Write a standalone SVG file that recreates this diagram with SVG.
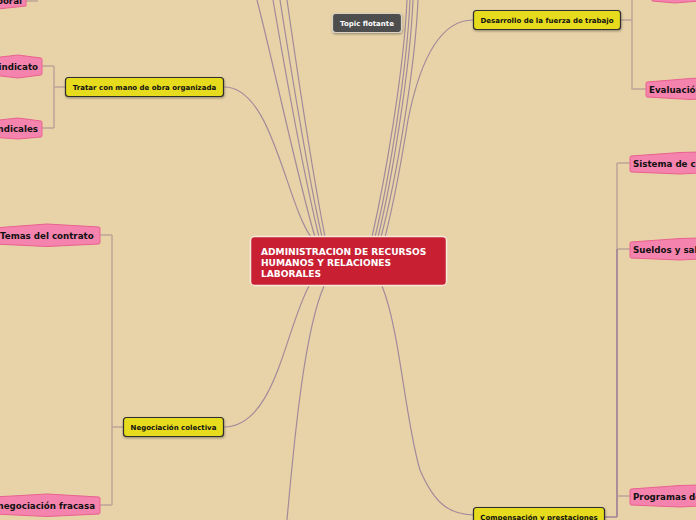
<svg xmlns="http://www.w3.org/2000/svg" width="696" height="520" viewBox="0 0 696 520">
<defs>
<filter id="sh" x="-10%" y="-20%" width="120%" height="160%"><feDropShadow dx="0.5" dy="1.2" stdDeviation="0.8" flood-color="#000" flood-opacity="0.35"/></filter>
<style>
.bg{fill:#E8D3A8}
.main{fill:none;stroke:#A38A9B;stroke-width:1.2}
.sub{fill:none;stroke:#BCA596;stroke-width:1.5}
.subp{fill:none;stroke:#A08399;stroke-width:1.5}
.yel{fill:#E6DB1D;stroke:#2E2E2E;stroke-width:1.2}
.pink{fill:#F483AD;stroke:#E8628F;stroke-width:1}
.yt{font-family:"DejaVu Sans",sans-serif;font-weight:bold;font-size:7px;fill:#111}
.pt{font-family:"DejaVu Sans",sans-serif;font-weight:bold;font-size:8.7px;fill:#111}
.ct{font-family:"DejaVu Sans",sans-serif;font-weight:bold;font-size:9.1px;fill:#fff}
</style>
</defs>
<rect class="bg" x="0" y="0" width="696" height="520"/>
<g id="connectors">
<path class="main" d="M224,87 C272,87 285,200 311,237"/>
<path class="main" d="M257,0 C275,70 298,180 315,237"/>
<path class="main" d="M273,0 C285,70 305,180 319,237"/>
<path class="main" d="M280,0 C291,70 309,180 322,237"/>
<path class="main" d="M287,0 C297,70 314,180 325,237"/>
<path class="main" d="M407,0 C404,70 385,180 372,237"/>
<path class="main" d="M410,0 C407,70 389,180 375,237"/>
<path class="main" d="M413,0 C410,70 392,180 378,237"/>
<path class="main" d="M418,0 C415,70 396,180 381,237"/>
<path class="main" d="M473,20 C440,20 420,60 408,120 C400,170 392,210 385,237"/>
<path class="main" d="M309,286 C285,330 275,427 224,427"/>
<path class="main" d="M324,286 C305,330 295,430 287,520"/>
<path class="main" d="M382,286 C400,330 405,420 420,470 C435,505 450,514 473,515"/>
<path class="sub" d="M65,87 H54 M54,66 V128 M42,66 H54 M42,128 H54"/>
<path class="sub" d="M26,1 H38"/>
<path class="sub" d="M123,427 H112 M112,235 V505 M100,235 H112 M100,505 H112"/>
<path class="sub" d="M621,20 H632 M632,0 V89 H646"/>
<path class="sub" d="M617,163 V517 M617,163 H630 M617,249 H630 M617,496 H630"/>
<path class="subp" d="M605,517 H617 M617,249 V517"/>
</g>
<g id="n-center">
<rect x="250.5" y="236.5" width="196" height="49" rx="4" fill="#C81F33" stroke="#F5E9DA" stroke-width="1.5"/>
<text class="ct" x="261" y="255">ADMINISTRACION DE RECURSOS</text>
<text class="ct" x="261" y="266">HUMANOS Y RELACIONES</text>
<text class="ct" x="261" y="277">LABORALES</text>
</g>
<g id="n-floating">
<rect x="332.5" y="13.5" width="69" height="19" rx="3" fill="#4E4E4E" stroke="#D8D2C6" stroke-width="1.2" filter="url(#sh)"/>
<text class="yt" x="367" y="26" text-anchor="middle" fill="#fff" style="fill:#fff">Topic flotante</text>
</g>
<g id="n-tratar">
<rect class="yel" x="65.5" y="77.5" width="158" height="19" rx="3" filter="url(#sh)"/>
<text class="yt" x="144.5" y="90" text-anchor="middle">Tratar con mano de obra organizada</text>
</g>
<g id="n-desarrollo">
<rect class="yel" x="473.5" y="10.5" width="147" height="19" rx="3" filter="url(#sh)"/>
<text class="yt" x="547" y="23" text-anchor="middle">Desarrollo de la fuerza de trabajo</text>
</g>
<g id="n-negociacion">
<rect class="yel" x="123.5" y="417.5" width="100" height="19" rx="3" filter="url(#sh)"/>
<text class="yt" x="173.5" y="430" text-anchor="middle">Negociación colectiva</text>
</g>
<g id="n-compensacion">
<rect class="yel" x="473.5" y="507.5" width="131" height="19" rx="3" filter="url(#sh)"/>
<text class="yt" x="539" y="520" text-anchor="middle">Compensación y prestaciones</text>
</g>
<g id="n-laboral">
<path class="pink" d="M-10,-8 L26,-6 L26,6 L-2,9 L-10,8 Z"/>
<text class="pt" x="22" y="4" text-anchor="end">laboral</text>
</g>
<g id="n-sindicato">
<path class="pink" d="M-10,59 L-8,58 L18,55 L41,58 Q42,58 42,60 L42,73 Q42,75 41,75 L18,78 L-8,75 Z"/>
<text class="pt" x="38" y="70" text-anchor="end">Sindicato</text>
</g>
<g id="n-sindicales">
<path class="pink" d="M-10,121 L18,118 L41,121 Q42,121 42,123 L42,135 Q42,137 41,137 L18,139 L-10,137 Z"/>
<text class="pt" x="38" y="132" text-anchor="end">Sindicales</text>
</g>
<g id="n-temas">
<path class="pink" d="M-6,228 L47,224 L99,227 Q100,227 100,229 L100,242 Q100,244 99,244 L47,246.5 L-6,244 Z"/>
<text class="pt" x="0" y="238.5">Temas del contrato</text>
</g>
<g id="n-fracasa">
<path class="pink" d="M-6,497 L47,494 L99,497 Q100,497 100,499 L100,512 Q100,514 99,514 L47,516.5 L-6,514 Z"/>
<text class="pt" x="95" y="508.5" text-anchor="end">Si la negociación fracasa</text>
</g>
<g id="n-top-right">
<path class="pink" d="M652,-10 L700,-10 L700,1 L675,3 L652,1 Z"/>
</g>
<g id="n-evaluacion">
<path class="pink" d="M647,82 Q646,82 646,84 L646,95 Q646,97 647,97 L690,99.5 L700,99 L700,78 L690,78.5 Z"/>
<text class="pt" x="649" y="92.5">Evaluación</text>
</g>
<g id="n-sistema">
<path class="pink" d="M631,156 Q630,156 630,158 L630,170 Q630,172 631,172 L680,174 L700,173 L700,152 L680,152.5 Z"/>
<text class="pt" x="633" y="166.5">Sistema de compensación</text>
</g>
<g id="n-sueldos">
<path class="pink" d="M631,242 Q630,242 630,244 L630,256 Q630,258 631,258 L680,260 L700,259 L700,238 L680,238.5 Z"/>
<text class="pt" x="633" y="252.5">Sueldos y salarios</text>
</g>
<g id="n-programas">
<path class="pink" d="M631,489 Q630,489 630,491 L630,503 Q630,505 631,505 L680,507 L700,506 L700,485 L680,485.5 Z"/>
<text class="pt" x="633" y="499.5">Programas de prestaciones</text>
</g>
</svg>
